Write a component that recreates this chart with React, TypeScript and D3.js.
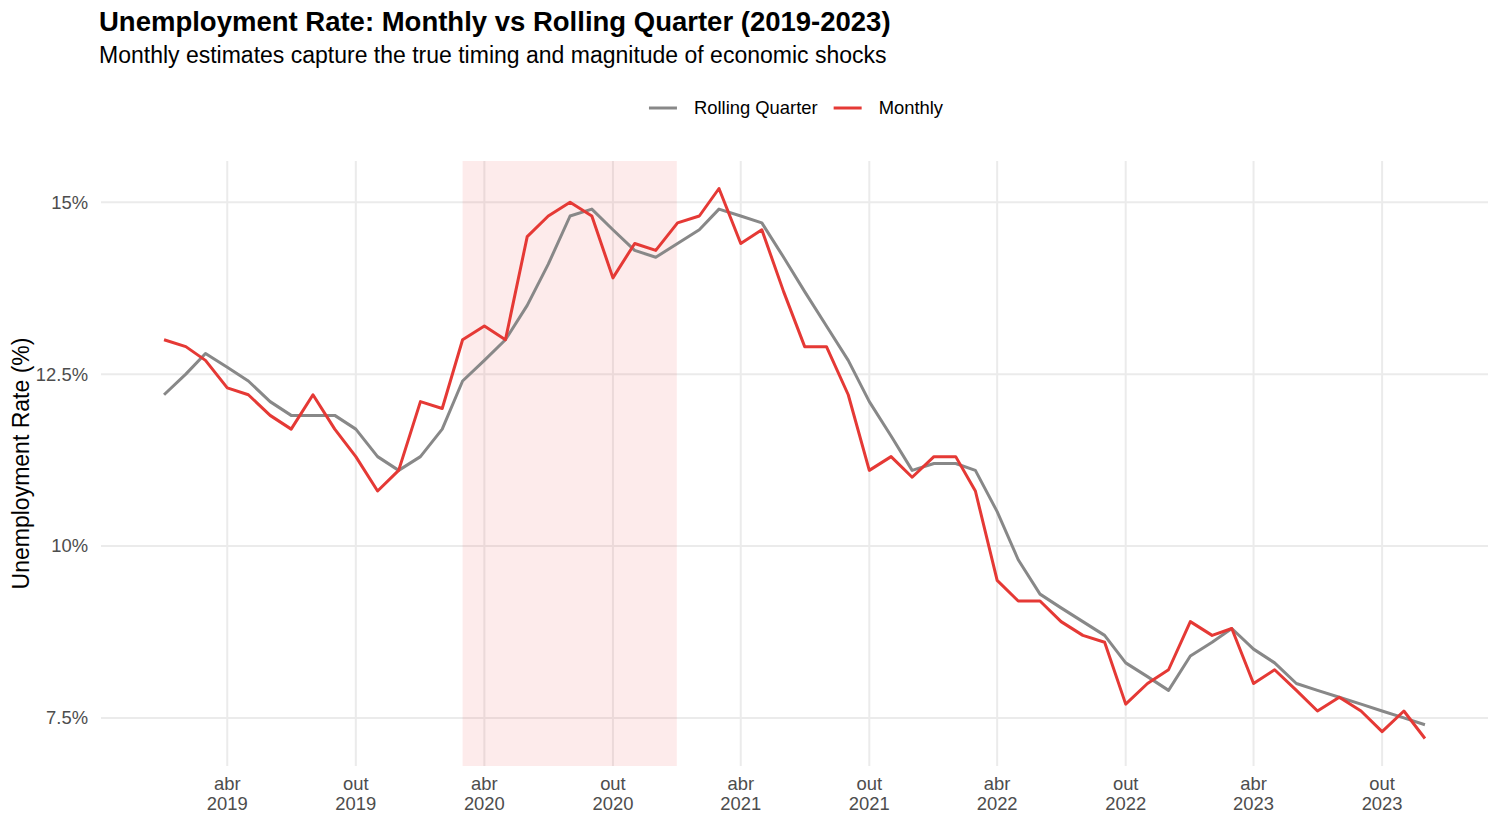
import * as React from "react";
import * as d3 from "d3";

// months Jan 2019 .. Dec 2023
const months = d3.utcMonth.range(new Date(Date.UTC(2019, 0, 1)), new Date(Date.UTC(2024, 0, 1)));

const monthlyRate = [
  13.0, 12.9, 12.7, 12.3, 12.2, 11.9, 11.7, 12.2, 11.7, 11.3, 10.8, 11.1, // 2019
  12.1, 12.0, 13.0, 13.2, 13.0, 14.5, 14.8, 15.0, 14.8, 13.9, 14.4, 14.3, // 2020
  14.7, 14.8, 15.2, 14.4, 14.6, 13.7, 12.9, 12.9, 12.2, 11.1, 11.3, 11.0, // 2021
  11.3, 11.3, 10.8, 9.5, 9.2, 9.2, 8.9, 8.7, 8.6, 7.7, 8.0, 8.2, // 2022
  8.9, 8.7, 8.8, 8.0, 8.2, 7.9, 7.6, 7.8, 7.6, 7.3, 7.6, 7.2, // 2023
];

const rollingQuarterRate = [
  12.2, 12.5, 12.8, 12.6, 12.4, 12.1, 11.9, 11.9, 11.9, 11.7, 11.3, 11.1,
  11.3, 11.7, 12.4, 12.7, 13.0, 13.5, 14.1, 14.8, 14.9, 14.6, 14.3, 14.2,
  14.4, 14.6, 14.9, 14.8, 14.7, 14.2, 13.7, 13.2, 12.7, 12.1, 11.6, 11.1,
  11.2, 11.2, 11.1, 10.5, 9.8, 9.3, 9.1, 8.9, 8.7, 8.3, 8.1, 7.9,
  8.4, 8.6, 8.8, 8.5, 8.3, 8.0, 7.9, 7.8, 7.7, 7.6, 7.5, 7.4,
];

const seriesNames = ["Rolling Quarter", "Monthly"];
const seriesColors = ["#888888", "#e53935"];

const yTicks = [7.5, 10, 12.5, 15];
const xTicks = [
  "2019-04-01", "2019-10-01", "2020-04-01", "2020-10-01", "2021-04-01",
  "2021-10-01", "2022-04-01", "2022-10-01", "2023-04-01", "2023-10-01",
].map((s) => new Date(s));
const monthAbbr = ["jan", "fev", "mar", "abr", "mai", "jun", "jul", "ago", "set", "out", "nov", "dez"];

// shaded period
const shadeStart = new Date("2020-03-01");
const shadeEnd = new Date("2020-12-31");

const title = "Unemployment Rate: Monthly vs Rolling Quarter (2019-2023)";
const subtitle = "Monthly estimates capture the true timing and magnitude of economic shocks";
const yTitle = "Unemployment Rate (%)";

const font = "'Liberation Sans', Arial, sans-serif";

function drawChart(svgRef: React.RefObject<SVGSVGElement>) {
  const w = 1500;
  const h = 825;
  const left = 101;
  const right = 1488;
  const top = 161;
  const bottom = 766;

  const svg = d3.select(svgRef.current);
  svg.selectAll("*").remove();
  svg
    .attr("width", w)
    .attr("height", h)
    .style("display", "block")
    .style("background", "#ffffff")
    .style("font-family", font);

  // scales, with ggplot style 5% expansion
  const t0 = +months[0];
  const t1 = +months[months.length - 1];
  const pad = (t1 - t0) * 0.05;
  const xScale = d3
    .scaleUtc()
    .domain([new Date(t0 - pad), new Date(t1 + pad)])
    .range([left, right]);

  const [lo, hi] = d3.extent(monthlyRate.concat(rollingQuarterRate)) as [number, number];
  const yPad = (hi - lo) * 0.05;
  const yScale = d3.scaleLinear().domain([lo - yPad, hi + yPad]).range([bottom, top]);

  // grid
  const grid = svg.append("g");
  grid
    .selectAll(".hgrid")
    .data(yTicks)
    .join("line")
    .attr("x1", left)
    .attr("x2", right)
    .attr("y1", (d) => yScale(d))
    .attr("y2", (d) => yScale(d))
    .attr("stroke", "#ebebeb")
    .attr("stroke-width", 2);
  grid
    .selectAll(".vgrid")
    .data(xTicks)
    .join("line")
    .attr("x1", (d) => xScale(d))
    .attr("x2", (d) => xScale(d))
    .attr("y1", top)
    .attr("y2", bottom)
    .attr("stroke", "#ebebeb")
    .attr("stroke-width", 2);

  // shaded period
  svg
    .append("rect")
    .attr("x", xScale(shadeStart))
    .attr("y", top)
    .attr("width", xScale(shadeEnd) - xScale(shadeStart))
    .attr("height", bottom - top)
    .attr("fill", "#f03a3a")
    .attr("fill-opacity", 0.1);

  // lines
  const line = d3
    .line<number>()
    .x((_, i) => xScale(months[i]))
    .y((v) => yScale(v));

  [rollingQuarterRate, monthlyRate].forEach((vals, k) => {
    svg
      .append("path")
      .datum(vals)
      .attr("d", line)
      .attr("fill", "none")
      .attr("stroke", seriesColors[k])
      .attr("stroke-width", 3)
      .attr("stroke-linejoin", "round");
  });

  // y axis labels
  svg
    .append("g")
    .selectAll("text")
    .data(yTicks)
    .join("text")
    .attr("x", 88)
    .attr("y", (d) => yScale(d))
    .attr("dy", "0.35em")
    .attr("text-anchor", "end")
    .attr("font-size", 18.4)
    .attr("fill", "#4d4d4d")
    .text((d) => `${d}%`);

  // x axis labels (two lines)
  const xl = svg
    .append("g")
    .selectAll("text")
    .data(xTicks)
    .join("text")
    .attr("text-anchor", "middle")
    .attr("font-size", 18.4)
    .attr("fill", "#4d4d4d");
  xl.append("tspan")
    .attr("x", (d) => xScale(d))
    .attr("y", 790)
    .text((d) => monthAbbr[d.getUTCMonth()]);
  xl.append("tspan")
    .attr("x", (d) => xScale(d))
    .attr("y", 810)
    .text((d) => `${d.getUTCFullYear()}`);

  // y title
  svg
    .append("text")
    .attr("transform", `translate(29,${(top + bottom) / 2}) rotate(-90)`)
    .attr("text-anchor", "middle")
    .attr("font-size", 23)
    .attr("fill", "#000")
    .text(yTitle);

  // title + subtitle
  svg
    .append("text")
    .attr("x", 99)
    .attr("y", 31)
    .attr("font-size", 27.5)
    .attr("font-weight", "bold")
    .attr("fill", "#000")
    .text(title);
  svg
    .append("text")
    .attr("x", 99)
    .attr("y", 63)
    .attr("font-size", 23)
    .attr("fill", "#000")
    .text(subtitle);

  // legend
  const legend = svg.append("g");
  let cursor = 0;
  seriesNames.forEach((name, k) => {
    legend
      .append("line")
      .attr("x1", cursor)
      .attr("x2", cursor + 28)
      .attr("y1", 108)
      .attr("y2", 108)
      .attr("stroke", seriesColors[k])
      .attr("stroke-width", 3);
    const txt = legend
      .append("text")
      .attr("x", cursor + 45)
      .attr("y", 108)
      .attr("dy", "0.35em")
      .attr("font-size", 18.4)
      .attr("fill", "#000")
      .text(name);
    const tw = (txt.node() as SVGTextElement).getComputedTextLength();
    cursor += 45 + tw + 16;
  });
  const legendWidth = cursor - 16;
  legend.attr("transform", `translate(${796 - legendWidth / 2},0)`);
}

const App: React.FunctionComponent = () => {
  const svg = React.useRef<SVGSVGElement>(null);
  React.useEffect(() => {
    document.body.style.margin = "0";
    drawChart(svg);
  }, [svg]);

  return (
    <div id="chart">
      <svg ref={svg} />
    </div>
  );
};

export default App;
